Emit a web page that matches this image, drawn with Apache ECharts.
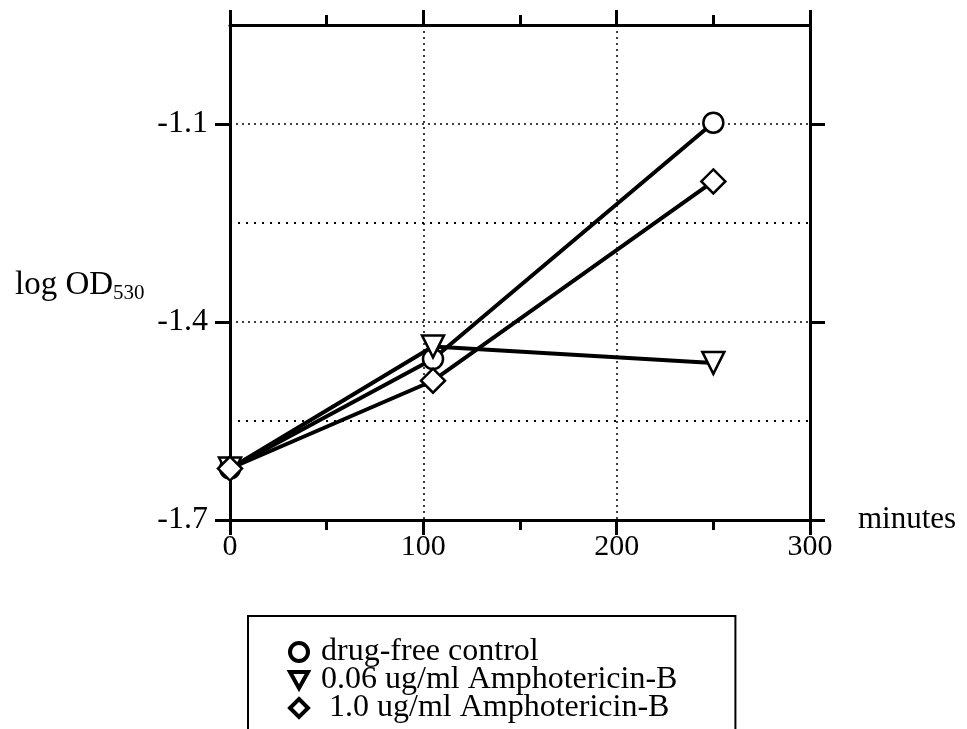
<!DOCTYPE html>
<html><head><meta charset="utf-8">
<script src="https://cdn.jsdelivr.net/npm/echarts@6/dist/echarts.min.js"></script>
<style>html,body{margin:0;padding:0;background:#fff}#c{width:967px;height:729px}</style>
</head><body><div id="c"></div>
<script>
const minutes = [0, 105, 250];
const control = [-1.622, -1.456, -1.098];
const ampho006 = [-1.622, -1.437, -1.462];
const ampho10 = [-1.622, -1.489, -1.187];
const seriesNames = ['drug-free control', '0.06 ug/ml Amphotericin-B', ' 1.0 ug/ml Amphotericin-B'];
const yTicks = [-1.7, -1.4, -1.1];
const yMinorGrid = [-1.55, -1.25];
const xTicks = [0, 100, 200, 300];

const FONT = 'Liberation Serif';
const chart = echarts.init(document.getElementById('c'));
const axisLine = {show: true, onZero: false, lineStyle: {color: '#000', width: 3}};
const pair = ys => minutes.map((x, i) => [x, ys[i]]);
const mk = (name, ys, symbol, size, rot) => ({
  name, type: 'line', data: pair(ys), symbol, symbolSize: size, symbolRotate: rot,
  lineStyle: {color: '#000', width: 4}, itemStyle: {color: '#fff', borderColor: '#000', borderWidth: 2.5},
  z: 5
});
const tri = 'path://M0,0 L20,0 L10,18 Z';
const s1 = mk(seriesNames[0], control, 'circle', 20, 0);
s1.markLine = {silent: true, symbol: 'none', label: {show: false},
  lineStyle: {color: '#000', type: [2, 6], width: 2}, data: yMinorGrid.map(v => ({yAxis: v}))};
const xBase = {type: 'value', min: 0, max: 300, interval: 100,
  axisLine, axisTick: {inside: false, length: 15, lineStyle: {width: 3, color: '#000'}},
  minorTick: {show: true, splitNumber: 2, length: 10, lineStyle: {width: 3, color: '#000'}}};
const yBase = {type: 'value', min: -1.7, max: -0.95, interval: 0.3,
  axisLine, axisTick: {inside: false, customValues: yTicks, length: 15, lineStyle: {width: 3, color: '#000'}}};
chart.setOption({
  animation: false,
  title: {text: '{a|log OD}{b|530}', left: 10, top: 262,
    textStyle: {fontWeight: 'normal', rich: {a: {fontFamily: FONT, fontSize: 33, fontWeight: 'normal', color: '#000'},
      b: {fontFamily: FONT, fontSize: 21, fontWeight: 'normal', color: '#000', padding: [16, 0, 0, 0]}}}},
  grid: {left: 230, right: 157, top: 25, bottom: 209},
  xAxis: [
    Object.assign({}, xBase, {position: 'bottom',
      axisLabel: {customValues: xTicks, color: '#000', fontFamily: FONT, fontSize: 30, margin: 12},
      splitLine: {show: true, lineStyle: {color: '#000', type: [2, 4], width: 1.5}},
      name: 'minutes', nameLocation: 'end', nameGap: 48,
      nameTextStyle: {color: '#000', fontFamily: FONT, fontSize: 31, verticalAlign: 'middle', padding: [34, 0, 0, 0]}}),
    Object.assign({}, xBase, {position: 'top', axisLabel: {show: false}, splitLine: {show: false}})
  ],
  yAxis: [
    Object.assign({}, yBase, {position: 'left',
      axisLabel: {customValues: yTicks, color: '#000', fontFamily: FONT, fontSize: 32, margin: 22},
      splitLine: {show: true, lineStyle: {color: '#000', type: [2, 4], width: 1.5}}}),
    Object.assign({}, yBase, {position: 'right', axisLabel: {show: false}, splitLine: {show: false}})
  ],
  legend: {orient: 'vertical', left: 248, top: 616, height: 300, itemGap: -4, itemWidth: 18, itemHeight: 18,
    padding: [20, 58, 20, 40], borderColor: '#000', borderWidth: 2,
    textStyle: {color: '#000', fontFamily: FONT, fontSize: 32, lineHeight: 27, padding: [0, 0, 0, 8]},
    itemStyle: {borderWidth: 4}, lineStyle: {width: 0},
    data: seriesNames.map((n, i) => ({name: n, icon: ['circle', tri, 'diamond'][i]}))},
  series: [
    s1,
    mk(seriesNames[1], ampho006, 'triangle', 22, 180),
    mk(seriesNames[2], ampho10, 'diamond', 24, 0)
  ]
});
</script></body></html>
